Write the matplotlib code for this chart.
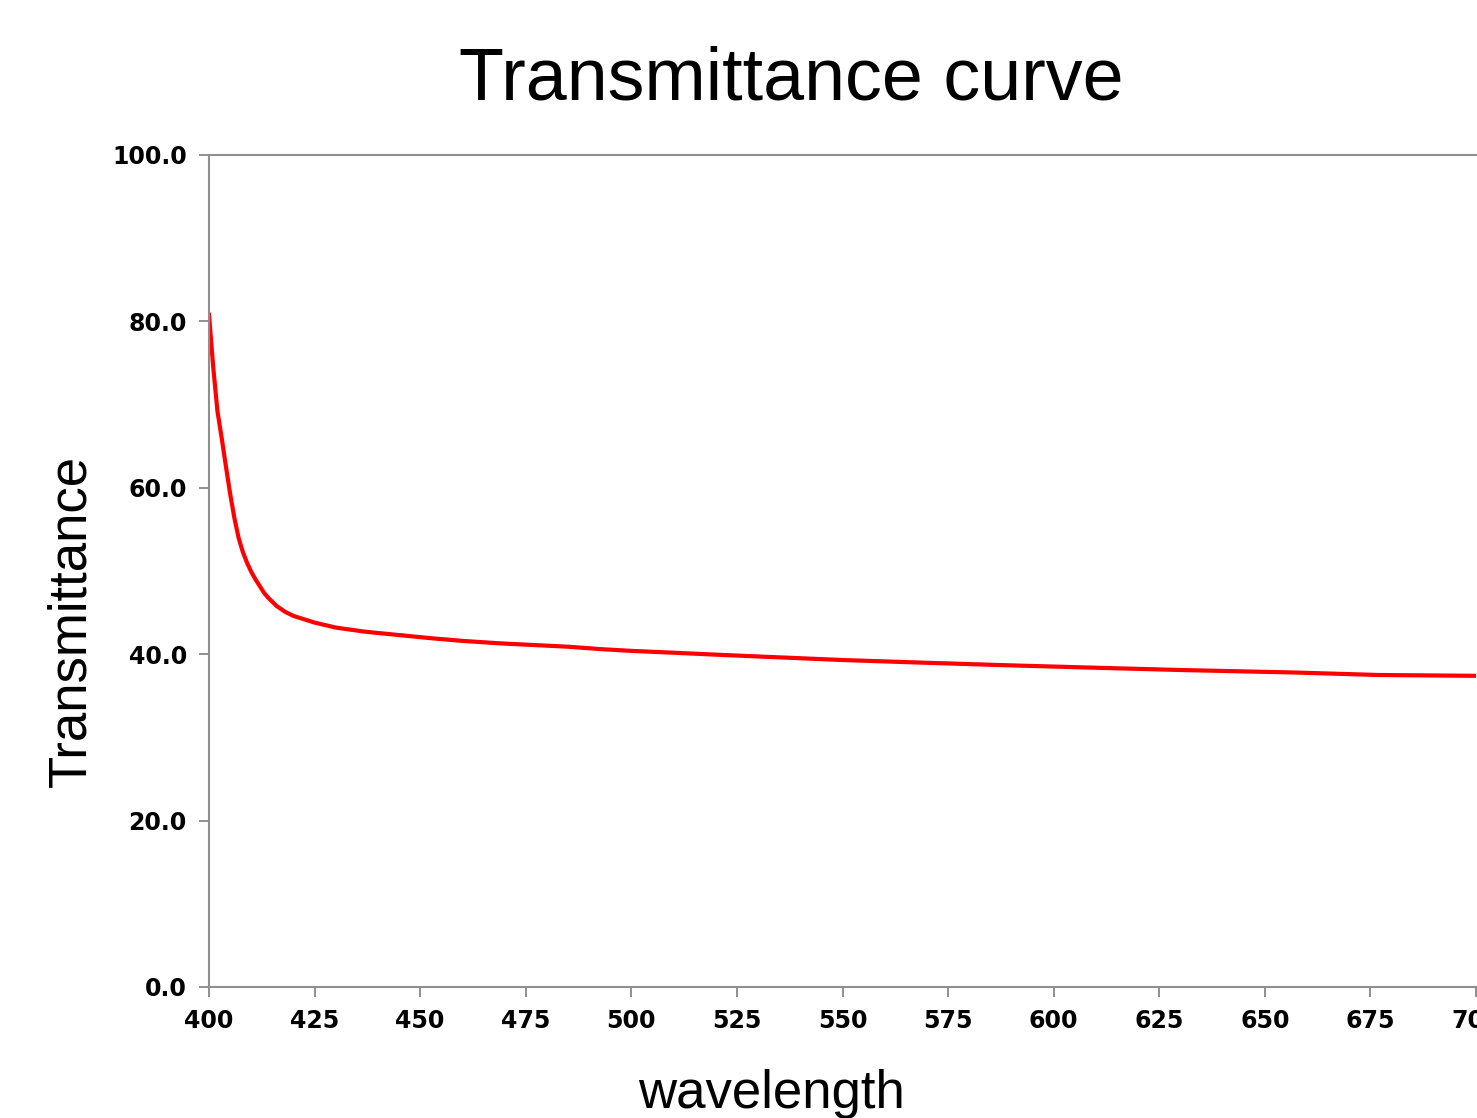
import matplotlib
matplotlib.use("Agg")
import matplotlib.pyplot as plt
import numpy as np

# wavelength (nm) and transmittance (%)
wavelength = [400, 401, 402, 403, 404, 405, 406, 407, 408, 409, 410, 411, 412,
              413, 414, 416, 418, 420, 425, 430, 437, 445, 453, 460, 469, 477,
              485, 493, 500, 509, 522, 536, 550, 568, 587, 608, 630, 657, 677,
              700]
transmittance = [80.8, 74.5, 69.2, 66.0, 62.6, 59.3, 56.4, 54.0, 52.3, 51.0,
                 49.9, 49.0, 48.2, 47.4, 46.8, 45.8, 45.1, 44.6, 43.8, 43.2,
                 42.7, 42.3, 41.9, 41.6, 41.3, 41.1, 40.9, 40.6, 40.4, 40.2,
                 39.9, 39.6, 39.3, 39.0, 38.7, 38.4, 38.1, 37.8, 37.5, 37.4]

x_ticks = list(range(400, 701, 25))
y_ticks = [0, 20, 40, 60, 80, 100]

W, H = 1477, 1118
SPINE = "#8f8f8f"

fig = plt.figure(figsize=(W / 100, H / 100), dpi=100)
ax = fig.add_axes([209 / W, 1 - 987 / H, (1476 - 209) / W, (987 - 155) / H])

ax.plot(wavelength, transmittance, color="#ff0000", lw=3.0,
        solid_joinstyle="round")

ax.set_xlim(400, 700)
ax.set_ylim(0, 100)
ax.set_xticks(x_ticks)
ax.set_yticks(y_ticks)
ax.set_yticklabels([f"{v:.1f}" for v in y_ticks])

for lab in ax.get_xticklabels() + ax.get_yticklabels():
    lab.set_fontfamily("DejaVu Sans")
    lab.set_fontweight("bold")
    lab.set_fontsize(17)

ax.tick_params(axis="both", direction="out", length=7, width=1.4,
               color=SPINE, pad=9)
ax.spines["right"].set_visible(False)
for side in ["left", "bottom", "top"]:
    ax.spines[side].set_color(SPINE)
    ax.spines[side].set_linewidth(1.5)

fig.text(791 / W, 1 - 100 / H, "Transmittance curve", ha="center",
         va="baseline", fontsize=53, family="Liberation Sans")
fig.text(771 / W, 1 - 1108 / H, "wavelength", ha="center", va="baseline",
         fontsize=38, family="Liberation Sans")
fig.text(46 / W, 1 - 621 / H, "Transmittance", ha="left", va="center",
         rotation=90, fontsize=38, family="Liberation Sans")

fig.savefig("out.png", dpi=100)
